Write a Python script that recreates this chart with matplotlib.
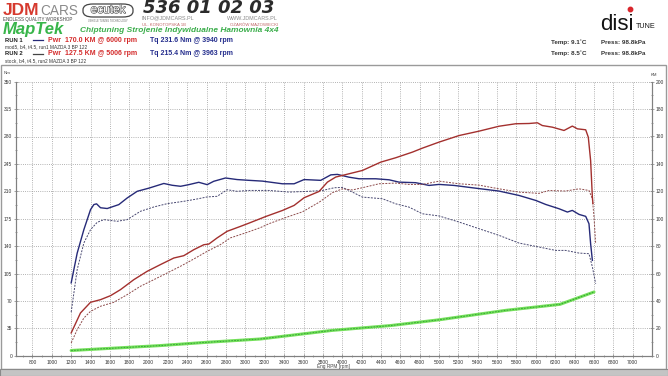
import numpy as np
import matplotlib
matplotlib.use("Agg")
import matplotlib.pyplot as plt
from matplotlib.patches import Rectangle, FancyBboxPatch
from matplotlib.ticker import MultipleLocator
import matplotlib.patheffects as pe

W, H = 668, 376

# ---------------- data ----------------
run1_tq_rpm = [1200, 1262, 1331, 1400, 1434, 1462, 1503, 1572, 1692, 1779, 1882, 2002, 2157, 2243, 2330,
               2415, 2518, 2605, 2673, 2794, 2914, 3038, 3176, 3382, 3503, 3606, 3778, 3882, 3950, 4071,
               4174, 4346, 4484, 4587, 4759, 4897, 5000, 5155, 5345, 5620, 5826, 6000, 6102, 6240, 6326,
               6377, 6446, 6515, 6549, 6566, 6584]
run1_tq = [93, 131, 161, 186.6, 193, 194, 189, 188, 193, 201.5, 210, 214, 220, 217.7, 216.4,
           218.5, 221.5, 218.5, 222.8, 227, 225, 224, 223, 219.6, 219.6, 225, 224, 231, 231.6, 228,
           226, 226, 224.7, 221.7, 221, 217.5, 218.8, 217.5, 214.5, 210.3, 204.7, 198.3, 193.2, 187.7, 183.5,
           185.6, 180.5, 178, 168.6, 143, 121.8]

run1_pw_rpm = [1200, 1296, 1400, 1503, 1606, 1709, 1847, 1985, 2122, 2260, 2363, 2467, 2570, 2622, 2708,
               2811, 2949, 3038, 3210, 3382, 3503, 3606, 3761, 3847, 3933, 4071, 4208, 4398, 4553, 4725,
               4828, 5000, 5207, 5413, 5620, 5792, 5930, 6016, 6067, 6171, 6291, 6377, 6429, 6515, 6542,
               6566, 6584, 6590]
run1_pw = [16.6, 31.2, 39, 40.9, 43.8, 48.2, 55.5, 61.6, 66.5, 71.3, 73, 77.4, 81, 81.5, 86,
           90.8, 94.4, 96.8, 101.6, 106, 109.7, 115.3, 119.9, 126.7, 130.4, 132.8, 135.2, 141.3, 144.5, 148.6,
           151.5, 155.9, 160.7, 163.9, 167.5, 169.3, 169.5, 170, 168, 166.8, 164.4, 167.6, 165.6, 164.9, 159.5,
           142.4, 115.8, 111]

run2_tq_rpm = [1200, 1262, 1331, 1400, 1469, 1538, 1675, 1779, 1916, 2054, 2192, 2363, 2501, 2605, 2708,
               2811, 2914, 3038, 3245, 3451, 3623, 3795, 3916, 4002, 4105, 4208, 4415, 4553, 4690, 4828,
               5000, 5207, 5413, 5620, 5826, 6033, 6205, 6308, 6446, 6549, 6584, 6618]
run2_tq = [55.6, 110, 144, 161, 170.4, 173.8, 171.7, 173.8, 184.5, 190, 194.2, 197.2, 200.2, 202.8, 203.6,
           212, 210, 211.1, 211.1, 209, 209.8, 211, 214.5, 215, 209, 202.6, 200.5, 194, 189.8, 181.3,
           178.5, 170.7, 162.2, 153.7, 143.9, 138.8, 134.5, 134.5, 131.1, 130.3, 113.5, 92]

run2_pw_rpm = [1200, 1262, 1331, 1400, 1503, 1641, 1779, 1916, 2054, 2192, 2330, 2467, 2605, 2742, 2845,
               3017, 3155, 3245, 3451, 3589, 3761, 3899, 4002, 4105, 4208, 4381, 4553, 4690, 4828, 5000,
               5207, 5413, 5620, 5826, 6033, 6136, 6308, 6446, 6549, 6584, 6601, 6618]
run2_pw = [9.3, 19, 27.5, 32.4, 36.1, 39, 44.6, 50.7, 55.5, 60.4, 65.3, 70.6, 76.2, 81.1, 86,
           90, 93.5, 96.4, 101.7, 105, 112, 119, 121.8, 121, 122.6, 125.5, 126, 125, 125, 127.4,
           125.5, 124.5, 121.8, 119.4, 118.5, 120.6, 120.2, 121.8, 120.6, 114.6, 101.2, 81.7]

loss_rpm = [1200, 2122, 2605, 3155, 3900, 4500, 5000, 5689, 6250, 6601]
loss_pw = [3.8, 7.4, 9.8, 12.2, 18.5, 22, 26.2, 33.1, 37.5, 46.5]

x_ticks = list(range(800, 7001, 200))
nm_ticks = list(range(0, 351, 35))
km_ticks = list(range(0, 201, 20))

# ---------------- figure ----------------
fig = plt.figure(figsize=(W / 100, H / 100), dpi=100)
fig.patch.set_facecolor("white")

def px(x, y):
    return x / W, 1 - y / H

def T(x, y, s, **kw):
    kw.setdefault("va", "center")
    kw.setdefault("ha", "left")
    kw.setdefault("family", ["Liberation Sans", "DejaVu Sans"])
    return fig.text(*px(x, y), s, **kw)

# chart frame and bottom band
fig.add_artist(Rectangle(px(1, 369), 665 / W, 304 / H, transform=fig.transFigure,
                         fill=False, edgecolor="#9a9a9a", lw=1.0))
fig.add_artist(Rectangle((0, 0), 1, 7 / H, transform=fig.transFigure,
                         facecolor="#c4c4c4", edgecolor="#8a8a8a", lw=0.8))

ax = fig.add_axes([16 / W, 1 - 355.7 / H, 636 / W, 274 / H])
ax2 = ax.twinx()

ax.set_xlim(630, 7200)
ax.set_ylim(0, 350)
ax2.set_ylim(0, 200)

ax.set_xticks(x_ticks)
ax.xaxis.set_minor_locator(MultipleLocator(100))
ax.set_yticks(nm_ticks)
ax.yaxis.set_minor_locator(MultipleLocator(17.5))
ax2.set_yticks(km_ticks)
ax2.yaxis.set_minor_locator(MultipleLocator(10))

ax.grid(True, which="major", linestyle=(0, (1, 1.6)), color="#9a9a9a", lw=0.6)
ax.set_axisbelow(True)

for a in (ax, ax2):
    a.spines["top"].set_visible(False)
    for side in ("left", "right", "bottom"):
        a.spines[side].set_color("#808080")
        a.spines[side].set_linewidth(0.8)
    a.tick_params(which="both", colors="#808080", labelcolor="#333333", labelsize=3.5,
                  direction="inout", length=2.5, width=0.5, pad=1.5)
    a.tick_params(which="minor", length=1.5)
    for lab in a.get_xticklabels() + a.get_yticklabels():
        lab.set_family(["Liberation Sans", "DejaVu Sans"])

# curves
ax2.plot(loss_rpm, loss_pw, color="#74e05a", lw=2.2, solid_capstyle="round", zorder=2)
ax2.plot(loss_rpm, loss_pw, color="#2f9d34", lw=0.6, linestyle=(0, (2, 1.5)), zorder=3)

ax.plot(run2_tq_rpm, run2_tq, color="#474770", lw=0.7, linestyle=(0, (2, 1.3)), zorder=3)
ax2.plot(run2_pw_rpm, run2_pw, color="#8d4a4a", lw=0.7, linestyle=(0, (2, 1.3)), zorder=3)
ax.plot(run1_tq_rpm, run1_tq, color="#262a78", lw=1.0, zorder=4)
ax2.plot(run1_pw_rpm, run1_pw, color="#a3302e", lw=1.0, zorder=4)

# axis titles
T(4, 72.5, "Nm", fontsize=3.2, color="#444444")
T(651, 75, "KM", fontsize=3.2, color="#444444")
T(317, 366.5, "Eng RPM [rpm]", fontsize=3.4, color="#444444")

# ---------------- header ----------------
T(2.5, 15, "JDM", va="baseline", fontsize=12.5, fontweight="bold", color="#d63a2f")
T(40, 15, "CARS", va="baseline", fontsize=9.8, color="#8a8a8a")
T(3, 20, "ENDLESS QUALITY WORKSHOP", fontsize=3.25, color="#444444")

fig.add_artist(FancyBboxPatch(px(83, 17), 50 / W, 13 / H, boxstyle="round,pad=0,rounding_size=0.015",
                              transform=fig.transFigure, fill=False, edgecolor="#444444", lw=0.9))
T(108, 10, "ecutek", ha="center", fontsize=8.5, color="white",
  path_effects=[pe.withStroke(linewidth=0.9, foreground="#555555")])
T(108, 20.5, "VEHICLE TUNING TECHNOLOGY", ha="center", fontsize=1.8, color="#666666")

T(143, 13, "536 01 02 03", va="baseline", fontsize=13, fontweight="bold", fontstyle="italic",
  color="#2b2b2b", family=["DejaVu Sans"])
T(142, 18.3, "INFO@JDMCARS.PL", fontsize=3.9, color="#8c8c8c")
T(278, 18.3, "WWW.JDMCARS.PL", ha="right", fontsize=3.9, color="#8c8c8c")
T(142, 24.8, "UL. KONOTOPSKA 1B", fontsize=3.1, color="#c06666")
T(278, 24.8, "OŻARÓW MAZOWIECKI", ha="right", fontsize=3.1, color="#c06666")

T(3, 34, "MapTek", va="baseline", fontsize=12, fontweight="bold", fontstyle="italic", color="#38b54a")
T(80, 31, "Chiptuning Strojenie Indywidualne Hamownia 4x4", fontsize=6.0, fontweight="bold",
  fontstyle="italic", color="#3cae4c")

for (yy, run, pw, tq, desc) in [
    (40, "RUN 1", "Pwr  170.0 KM @ 6000 rpm", "Tq 231.6 Nm @ 3940 rpm", "mod5, b4, t4.5, run1 MAZDA 3 BP 122"),
    (53.5, "RUN 2", "Pwr  127.5 KM @ 5006 rpm", "Tq 215.4 Nm @ 3963 rpm", "stock, b4, t4.5, run2 MAZDA 3 BP 122"),
]:
    T(5, yy, run, fontsize=4.2, fontweight="bold", color="#222222")
    fig.add_artist(plt.Line2D([33 / W, 43 / W], [1 - yy / H, 1 - yy / H], transform=fig.transFigure,
                              color="#262a78" if run == "RUN 1" else "#444444", lw=0.9))
    T(48, yy, pw, fontsize=5.0, fontweight="bold", color="#d42c2c")
    T(150, yy, tq, fontsize=5.0, fontweight="bold", color="#232c8c")
    T(5, yy + 7, desc, fontsize=3.4, color="#333333")

# disi tune logo
T(600, 30, "disi", va="baseline", fontsize=16, color="#141414")
fig.add_artist(plt.Line2D([629.5 / W], [1 - 8.5 / H], transform=fig.transFigure, marker="o",
                          markersize=3.2, color="#d9262c", lw=0))
T(636, 26, "TUNE", fontsize=5.2, color="#141414")

T(551, 42.5, "Temp: 9.1˚C", fontsize=4.5, fontweight="bold", color="#333333")
T(601, 42.5, "Press: 98.8kPa", fontsize=4.5, fontweight="bold", color="#333333")
T(551, 53.5, "Temp: 8.5˚C", fontsize=4.5, fontweight="bold", color="#333333")
T(601, 53.5, "Press: 98.8kPa", fontsize=4.5, fontweight="bold", color="#333333")

fig.savefig("out.png", dpi=100, facecolor="white")
